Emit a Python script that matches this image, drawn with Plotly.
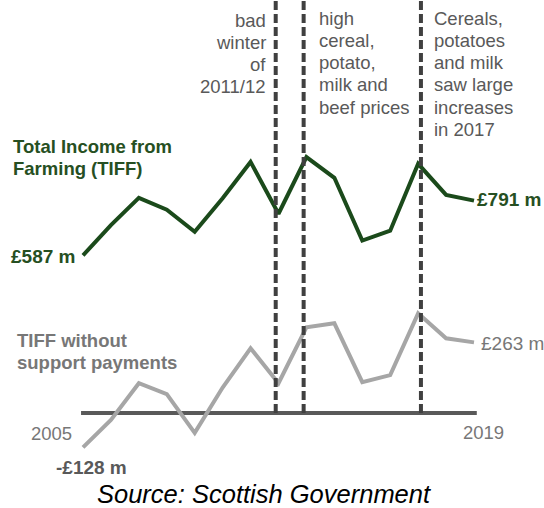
import plotly.graph_objects as go

# ---- data ----
years = list(range(2005, 2020))
tiff = [587, 700, 801, 757, 675, 800, 935, 742, 953, 876, 642, 679, 928, 812, 791]
tiff_no_support = [-128, -26, 111, 70, -74, 95, 241, 111, 319, 334, 115, 141, 371, 278, 263]
event_x = [2011.9, 2012.9, 2017.1]
event_notes = [
    ["bad", "winter", "of", "2011/12"],
    ["high", "cereal,", "potato,", "milk and", "beef prices"],
    ["Cereals,", "potatoes", "and milk", "saw large", "increases", "in 2017"],
]
series_labels = [["Total Income from", "Farming (TIFF)"], ["TIFF without", "support payments"]]
source_text = "Source: Scottish Government"

W, H = 544, 508
GREEN = "#1b4a1b"
GREEN_TXT = "#264f22"
LGRAY = "#a6a6a6"
TGRAY = "#595959"
MGRAY = "#777777"
FONT = "Liberation Sans, Arial, sans-serif"

fig = go.Figure()
fig.add_trace(go.Scatter(x=years, y=tiff, mode="lines",
                         line=dict(color=GREEN, width=4), hoverinfo="skip"))
fig.add_trace(go.Scatter(x=years, y=tiff_no_support, mode="lines",
                         line=dict(color=LGRAY, width=4), hoverinfo="skip"))

# axis baseline
fig.add_shape(type="line", xref="x", yref="y", x0=years[0] - 0.07, x1=years[-1] + 0.1,
              y0=0, y1=0, line=dict(color=TGRAY, width=4), layer="below")
# event lines
for ex in event_x:
    fig.add_shape(type="line", xref="x", yref="paper", x0=ex, x1=ex, y0=1 - 413 / H, y1=1,
                  line=dict(color="#404040", width=4, dash="9px,4px"), layer="above")


def px(x):
    return x / W


def py(y):
    return 1 - y / H


def text_block(lines, x, y0, dy, anchor, color, size, bold=False, italic=False):
    for i, t in enumerate(lines):
        s = t
        if bold:
            s = "<b>" + s + "</b>"
        if italic:
            s = "<i>" + s + "</i>"
        fig.add_annotation(xref="paper", yref="paper", x=px(x), y=py(y0 + i * dy),
                           text=s, showarrow=False, xanchor=anchor, yanchor="middle",
                           font=dict(family=FONT, size=size, color=color))


# event notes
text_block(event_notes[0], 268, 20, 22.3, "right", TGRAY, 18.5)
text_block(event_notes[1], 317, 18, 22.3, "left", TGRAY, 18.5)
text_block(event_notes[2], 432, 18, 22.3, "left", TGRAY, 18.5)

# series labels
text_block(series_labels[0], 11, 147, 21.5, "left", GREEN_TXT, 18.5, bold=True)
text_block(series_labels[1], 15, 340, 22.5, "left", MGRAY, 18.5, bold=True)

# end values
text_block([f"£{tiff[0]} m"], 9, 256, 0, "left", GREEN_TXT, 19, bold=True)
text_block([f"£{tiff[-1]} m"], 475, 200, 0, "left", GREEN_TXT, 19, bold=True)
text_block([f"-£{abs(tiff_no_support[0])} m"], 54, 467, 0, "left", TGRAY, 19, bold=True)
text_block([f"£{tiff_no_support[-1]} m"], 479, 343, 0, "left", MGRAY, 19)

# year labels
text_block([str(years[0])], 74, 433, 0, "right", MGRAY, 18.5)
text_block([str(years[-1])], 461, 432, 0, "left", MGRAY, 18.5)

# source
text_block([source_text], 264, 494, 0, "center", "#000000", 25.5, italic=True)

# pixel-mapped axes (2005 at x=83px, 2019 at x=474px; 0 at y=413px)
xpp = (474 - 83) / (years[-1] - years[0])
ypp = (tiff[0] - tiff_no_support[0]) / (447 - 255)
fig.update_xaxes(range=[years[0] - 83 / xpp, years[0] + (W - 83) / xpp], visible=False)
fig.update_yaxes(range=[-(H - 413) * ypp, 413 * ypp], visible=False)
fig.update_layout(width=W, height=H, margin=dict(l=0, r=0, t=0, b=0),
                  plot_bgcolor="white", paper_bgcolor="white", showlegend=False)

fig.write_html("out.html")
